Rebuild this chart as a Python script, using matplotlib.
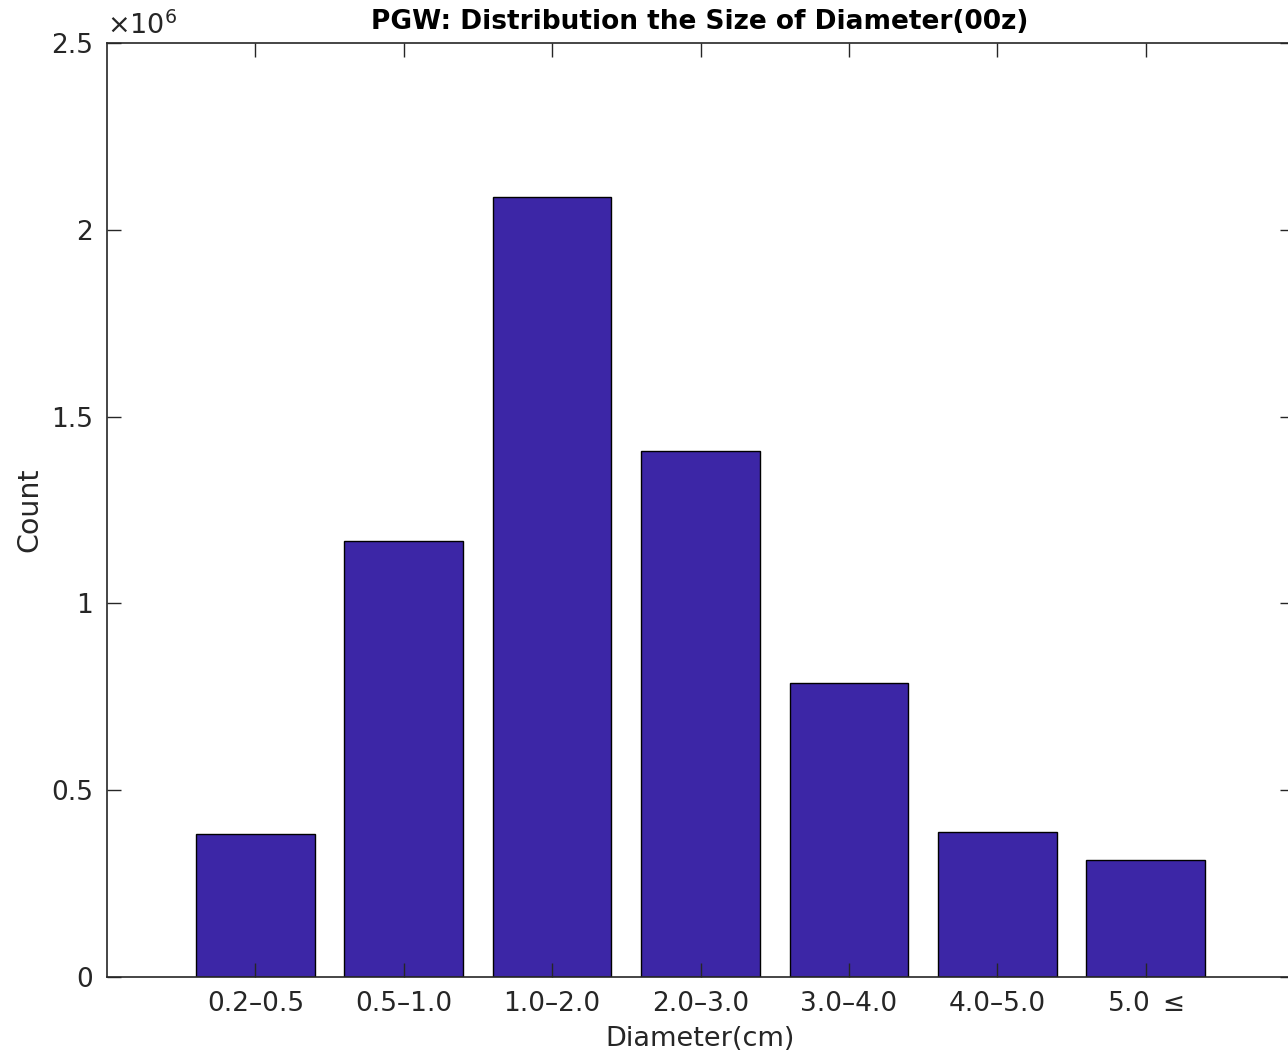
import matplotlib
matplotlib.use("Agg")
import matplotlib.pyplot as plt
import numpy as np
from matplotlib.ticker import FuncFormatter

# diameter bins and hail counts
bins = ["0.2–0.5", "0.5–1.0", "1.0–2.0", "2.0–3.0", "3.0–4.0", "4.0–5.0", "5.0 $\\leq$"]
counts = [383000, 1167000, 2088000, 1408000, 787000, 388000, 313000]
y_ticks = [0, 0.5e6, 1.0e6, 1.5e6, 2.0e6, 2.5e6]

plt.rcParams["font.family"] = ["DejaVu Sans"]
plt.rcParams["mathtext.fontset"] = "dejavusans"

axis_color = "#262626"
bar_color = "#3C26A6"

fig = plt.figure(figsize=(12.88, 10.56), dpi=100)
# axes run slightly past the right edge of the canvas
ax = fig.add_axes([107 / 1288, 1 - 977 / 1056, (1294 - 107) / 1288, (977 - 43) / 1056])

x = np.arange(1, len(bins) + 1)
ax.bar(x, counts, width=0.8, color=bar_color, edgecolor="black", linewidth=1.0)

ax.set_xlim(0, 8)
ax.set_ylim(0, 2.5e6)
ax.set_xticks(x)
ax.set_xticklabels(bins)
ax.set_yticks(y_ticks)
ax.yaxis.set_major_formatter(FuncFormatter(lambda v, p: "%g" % (v / 1e6)))

ax.tick_params(direction="in", length=10, width=1.0, colors=axis_color,
               labelsize=19, top=True, right=True, pad=10)
for s in ax.spines.values():
    s.set_color(axis_color)
    s.set_linewidth(1.2)

# exponent label for the y axis
ax.text(0.0, 1.003, r"$\times10^{\mathregular{6}}$", transform=ax.transAxes, fontsize=19.5,
        color=axis_color, ha="left", va="bottom")

ax.set_title("PGW: Distribution the Size of Diameter(00z)", fontsize=19,
             fontweight="bold", color="black", pad=10, x=(700 - 107) / (1294 - 107))
ax.set_xlabel("Diameter(cm)", fontsize=19.5, color=axis_color)
ax.set_ylabel("Count", fontsize=20.5, color=axis_color)
ax.xaxis.set_label_coords((700 - 107) / (1294 - 107), -0.052)
ax.yaxis.set_label_coords(-0.054, 0.5)

fig.savefig("out.png", dpi=100)
